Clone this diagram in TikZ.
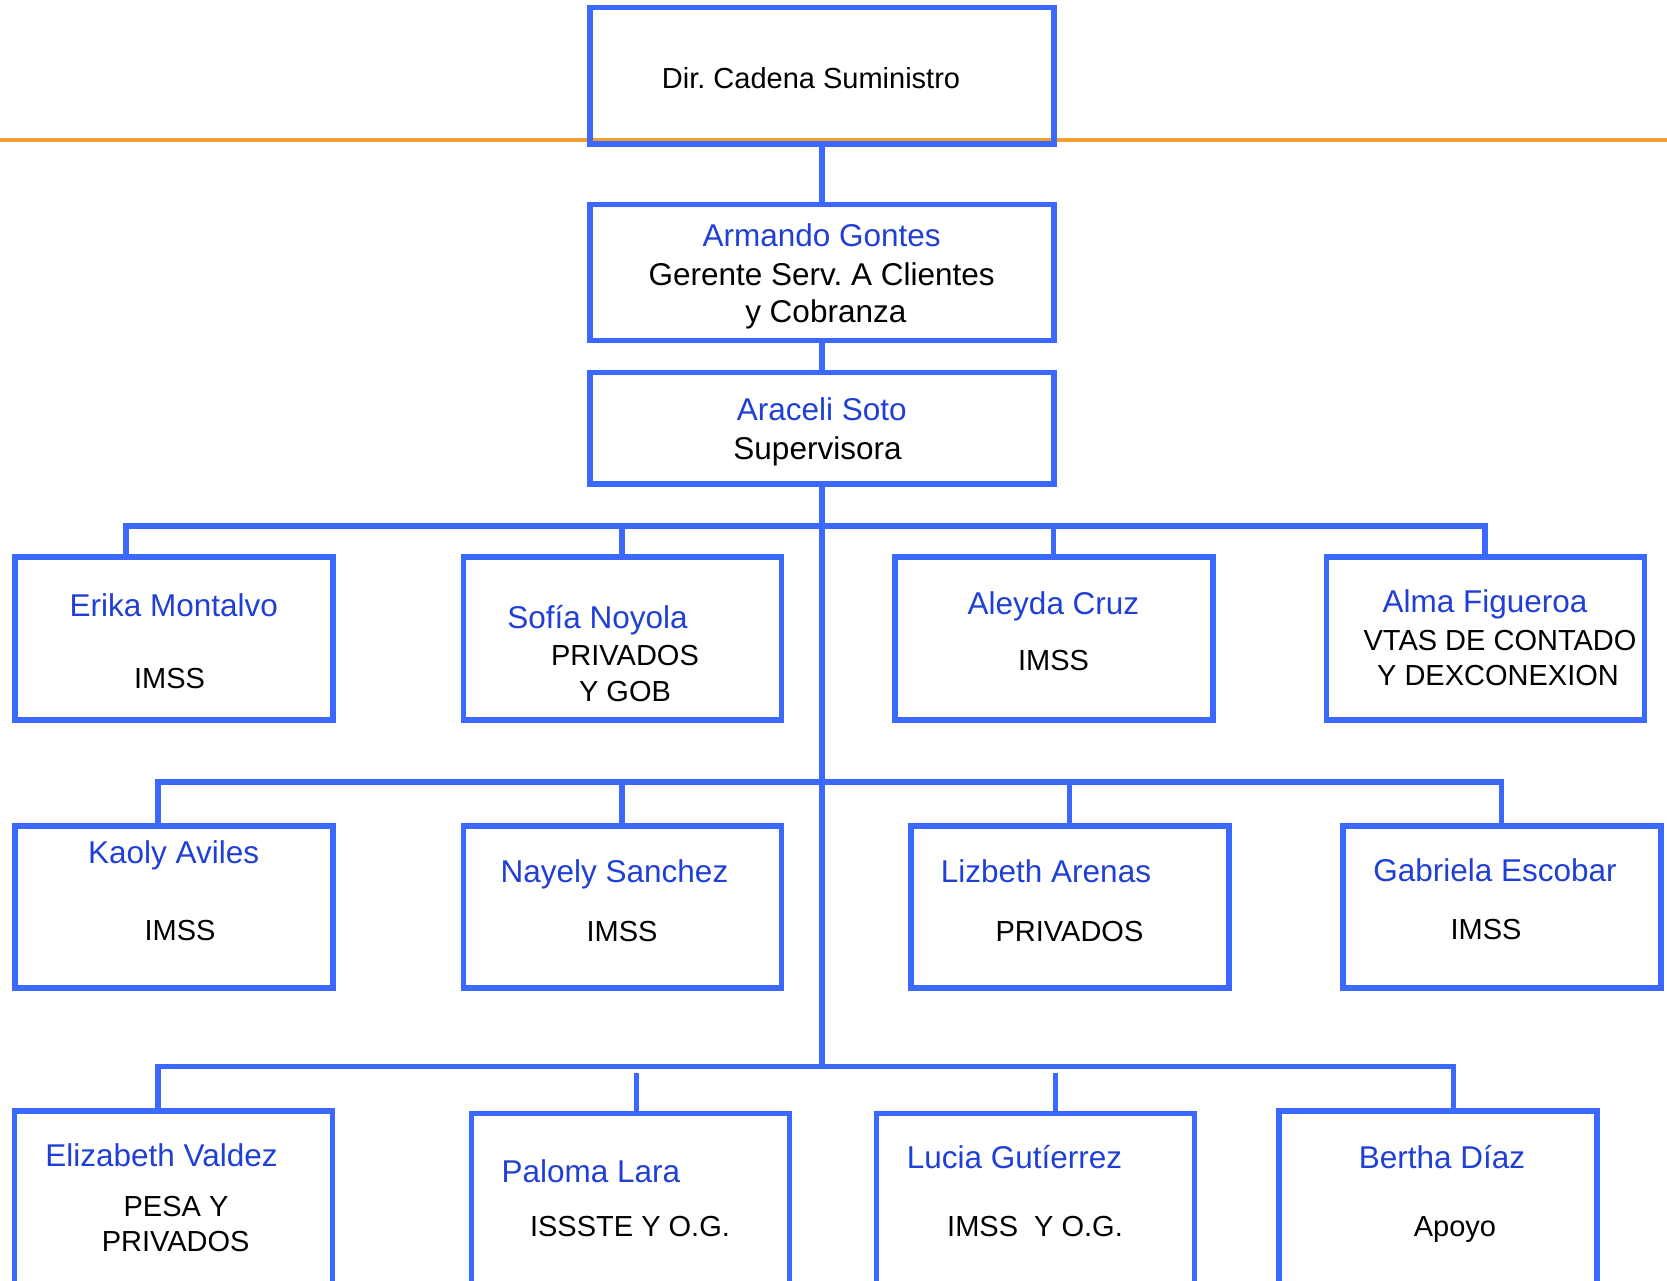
\documentclass[tikz,border=0pt]{standalone}
\usepackage{fontspec}
\setmainfont{Liberation Sans}
\definecolor{boxblue}{HTML}{3B68FF}
\definecolor{nameblue}{HTML}{1F3FD6}
\definecolor{orangeline}{HTML}{F0A030}
\frenchspacing
\begin{document}
\begin{tikzpicture}[x=1pt,y=-1pt,
  box/.style={draw=boxblue, line width=5.3pt, inner sep=0pt},
  conn/.style={draw=boxblue, line width=5.5pt},
  nm/.style={text=nameblue, anchor=base, inner sep=0pt, font=\fontsize{31.5}{38}\selectfont},
  tp/.style={text=black, anchor=base, inner sep=0pt, font=\fontsize{31.5}{38}\selectfont},
  ds/.style={text=black, anchor=base, inner sep=0pt, font=\fontsize{29}{35}\selectfont},
  rowA/.style={box, minimum width=318pt, minimum height=163pt},
  rowB/.style={box, minimum width=318pt, minimum height=162pt}]
\useasboundingbox (0,0) rectangle (1667,1280);
\clip (0,0) rectangle (1667,1280);

% orange rule
\coordinate (oL) at (0,139.7);
\coordinate (oR) at (1667,139.7);
\draw[orangeline, line width=4pt] (oL) -- (oR);

% top boxes
\node[box, minimum width=464pt, minimum height=136.4pt] (dir) at (822,75.9) {};
\node[box, minimum width=464pt, minimum height=136.3pt] (ger) at (822,272.5) {};
\node[box, minimum width=464pt, minimum height=111.4pt] (sup) at (822,428.3) {};

% row 1
\node[rowA] (erika) at (174,638.5) {};
\node[rowA] (sofia) at (622.4,638.5) {};
\node[rowA] (aleyda) at (1054,638.5) {};
\node[rowA] (alma) at (1485.5,638.5) {};

% row 2
\node[rowB] (kaoly) at (174,907) {};
\node[rowB] (nayely) at (622.4,907) {};
\node[rowB] (lizbeth) at (1070,907) {};
\node[rowB] (gabriela) at (1502,907) {};

% row 3
\node[box, minimum width=318pt, minimum height=289pt] (elizabeth) at (173.8,1255.5) {};
\node[box, minimum width=318pt, minimum height=286.3pt] (paloma) at (630.7,1256.85) {};
\node[box, minimum width=318pt, minimum height=286.3pt] (lucia) at (1035.6,1256.85) {};
\node[box, minimum width=318pt, minimum height=289pt] (bertha) at (1438,1255.5) {};

% bus coordinates
\coordinate (b3) at (822,1066.3);
\coordinate (d11) at (126,526);
\coordinate (d12) at (622,526);
\coordinate (d13) at (1053.5,526);
\coordinate (d14) at (1485,526);
\coordinate (d21) at (158,782);
\coordinate (d22) at (622,782);
\coordinate (d23) at (1069.5,782);
\coordinate (d24) at (1501.5,782);
\coordinate (d31) at (158,1066.3);
\coordinate (d32) at (636.3,1073);
\coordinate (d33) at (1055.7,1073);
\coordinate (d34) at (1453.4,1066.3);

% connectors
\draw[conn] (dir.south) -- (ger.north);
\draw[conn] (ger.south) -- (sup.north);
\draw[conn] (sup.south) -- (b3);

\draw[conn] (erika.north -| d11) -- (d11) -- (d14) -- (alma.north -| d14);
\draw[conn] (d12) -- (sofia.north -| d12);
\draw[conn] (d13) -- (aleyda.north -| d13);

\draw[conn] (kaoly.north -| d21) -- (d21) -- (d24) -- (gabriela.north -| d24);
\draw[conn] (d22) -- (nayely.north -| d22);
\draw[conn] (d23) -- (lizbeth.north -| d23);

\draw[conn] (elizabeth.north -| d31) -- (d31) -- (d34) -- (bertha.north -| d34);
\draw[conn] (d32) -- (paloma.north -| d32);
\draw[conn] (d33) -- (lucia.north -| d33);

% texts
\node[ds] (t0) at (811,88.5) {Dir. Cadena Suministro};
\node[nm] (t1a) at (821.7,246.7) {Armando Gontes};
\node[tp] (t1b) at (821.7,285) {Gerente Serv. A Clientes};
\node[tp] (t1c) at (825.8,322.7) {y Cobranza};
\node[nm] (t2a) at (821.7,420.7) {Araceli Soto};
\node[tp] (t2b) at (817.5,459.3) {Supervisora};

\node[nm] (e1) at (173.8,616.7) {Erika Montalvo};
\node[ds] (e2) at (169.6,688.3) {IMSS};
\node[nm] (s1) at (597.5,628) {Sofía Noyola};
\node[ds] (s2) at (625,665.5) {PRIVADOS};
\node[ds] (s3) at (625,701.6) {Y GOB};
\node[nm] (a1) at (1053.5,614.5) {Aleyda Cruz};
\node[ds] (a2) at (1053.5,670) {IMSS};
\node[nm] (f1) at (1485,612) {Alma Figueroa};
\node[ds] (f2) at (1500,650) {VTAS DE CONTADO};
\node[ds] (f3) at (1498,685) {Y DEXCONEXION};

\node[nm] (k1) at (173.6,863.3) {Kaoly Aviles};
\node[ds] (k2) at (180,940.7) {IMSS};
\node[nm] (n1) at (614.5,882.4) {Nayely Sanchez};
\node[ds] (n2) at (622,941) {IMSS};
\node[nm] (l1) at (1046,882.4) {Lizbeth Arenas};
\node[ds] (l2) at (1069.5,941) {PRIVADOS};
\node[nm] (g1) at (1495,881) {Gabriela Escobar};
\node[ds] (g2) at (1486,939) {IMSS};

\node[nm] (v1) at (161.5,1166) {Elizabeth Valdez};
\node[ds] (v2) at (176,1216) {PESA Y};
\node[ds] (v3) at (175.7,1251.7) {PRIVADOS};
\node[nm] (p1) at (591,1182.7) {Paloma Lara};
\node[ds] (p2) at (630,1236.7) {ISSSTE Y O.G.};
\node[nm] (u1) at (1014.6,1168.3) {Lucia Gutíerrez};
\node[ds] (u2) at (1035,1236.7) {IMSS\ \ Y O.G.};
\node[nm] (h1) at (1442,1168.3) {Bertha Díaz};
\node[ds] (h2) at (1455,1236.7) {Apoyo};
\end{tikzpicture}
\end{document}
